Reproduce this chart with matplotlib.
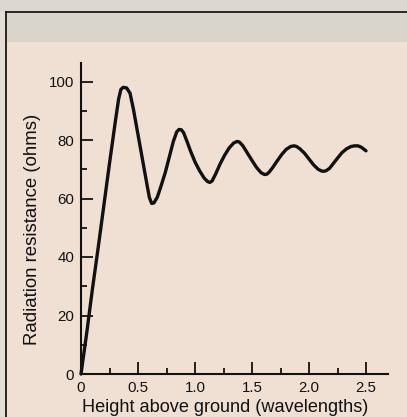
import matplotlib
matplotlib.use("Agg")
import matplotlib.pyplot as plt
from matplotlib.ticker import FixedLocator
from matplotlib.patches import Rectangle
from matplotlib.lines import Line2D

# Data
height_wl = [0.00, 0.05, 0.10, 0.15, 0.20, 0.25, 0.30, 0.33, 0.35, 0.37, 0.40, 0.43,
             0.46, 0.49, 0.52, 0.55, 0.58, 0.60, 0.62, 0.64, 0.67, 0.70, 0.74, 0.78,
             0.81, 0.84, 0.86, 0.88, 0.90, 0.93, 0.96, 1.00, 1.04, 1.08, 1.11, 1.13,
             1.15, 1.18, 1.22, 1.26, 1.30, 1.34, 1.37, 1.39, 1.42, 1.46, 1.50, 1.54,
             1.58, 1.61, 1.63, 1.65, 1.68, 1.72, 1.76, 1.80, 1.84, 1.87, 1.89, 1.92,
             1.96, 2.00, 2.04, 2.08, 2.11, 2.13, 2.15, 2.18, 2.21, 2.25, 2.29, 2.33,
             2.37, 2.40, 2.43, 2.46, 2.50]
resistance = [0.0, 14.0, 29.0, 43.0, 57.5, 72.0, 86.0, 94.0, 97.3, 98.0, 97.8, 96.0,
              90.5, 84.0, 77.5, 71.0, 64.5, 60.3, 58.3, 58.5, 60.5, 64.0, 69.0, 75.0,
              79.5, 82.8, 83.6, 83.5, 82.5, 79.5, 76.3, 72.5, 69.5, 67.0, 65.8, 65.5,
              66.0, 68.3, 71.8, 74.8, 77.3, 79.0, 79.5, 79.3, 78.0, 75.5, 73.0, 70.6,
              68.8, 68.2, 68.3, 69.0, 70.5, 72.8, 75.0, 76.8, 77.8, 78.0, 77.8, 77.0,
              75.5, 73.5, 71.5, 70.0, 69.4, 69.3, 69.5, 70.3, 71.8, 73.8, 75.7, 77.0,
              77.8, 78.0, 78.0, 77.5, 76.3]
x_ticks = [0, 0.5, 1.0, 1.5, 2.0, 2.5]
x_ticklabels = ["0", "0.5", "1.0", "1.5", "2.0", "2.5"]
y_ticks = [0, 20, 40, 60, 80, 100]
y_ticklabels = ["0", "20", "40", "60", "80", "100"]
x_label = "Height above ground (wavelengths)"
y_label = "Radiation resistance (ohms)"

W, H = 407, 417
fig = plt.figure(figsize=(W / 100, H / 100), dpi=100)
fig.patch.set_facecolor("#efe0d3")

# scanned page background: grey band on top, black frame lines
fig.patches.append(Rectangle((0, 1 - 12 / H), 1, 12 / H, transform=fig.transFigure,
                             facecolor="#dcd7d1", edgecolor="none", zorder=0))
fig.patches.append(Rectangle((6 / W, 1 - 42 / H), 1, 30 / H, transform=fig.transFigure,
                             facecolor="#d9d4cc", edgecolor="none", zorder=0))
fig.patches.append(Rectangle((0, 0), 6 / W, 1 - 12 / H, transform=fig.transFigure,
                             facecolor="#e6ddd4", edgecolor="none", zorder=0))
fig.lines.append(Line2D([6 / W, 1], [1 - 12 / H, 1 - 12 / H], transform=fig.transFigure,
                        color="#1a1a1a", lw=1.3))
fig.lines.append(Line2D([6 / W, 6 / W], [0, 1 - 12 / H], transform=fig.transFigure,
                        color="#1a1a1a", lw=1.3))

x0, y0 = 81, 374
x1, y1 = 388, 63
ax = fig.add_axes([x0 / W, 1 - y0 / H, (x1 - x0) / W, (y0 - y1) / H])
ax.set_facecolor("none")

xmax = (x1 - x0) / 114.0
ymax = (y0 - y1) / 2.925
ax.set_xlim(0, xmax)
ax.set_ylim(0, ymax)

ax.plot(height_wl, resistance, color="#111111", lw=2.4, solid_joinstyle="round",
        solid_capstyle="round", clip_on=False)

for s in ["top", "right"]:
    ax.spines[s].set_visible(False)
for s in ["left", "bottom"]:
    ax.spines[s].set_color("#111111")
    ax.spines[s].set_linewidth(1.5)

ax.xaxis.set_major_locator(FixedLocator(x_ticks))
ax.set_xticklabels(x_ticklabels)
ax.xaxis.set_minor_locator(FixedLocator([0.25, 0.75, 1.25, 1.75, 2.25]))
ax.yaxis.set_major_locator(FixedLocator(y_ticks))
ax.set_yticklabels(y_ticklabels)
ax.yaxis.set_minor_locator(FixedLocator([10, 30, 50, 70, 90]))

ax.tick_params(axis="both", which="major", direction="in", length=8.5, width=1.3,
               color="#111111", labelsize=10.8, labelcolor="#111111")
ax.tick_params(axis="both", which="minor", direction="in", length=4.5, width=1.3,
               color="#111111")
ax.tick_params(axis="y", which="major", pad=5)
ax.tick_params(axis="x", which="major", pad=5)

font = "Liberation Sans"
for lab in ax.get_xticklabels() + ax.get_yticklabels():
    lab.set_fontfamily(font)

fig.text(225 / W, 1 - 408 / H, x_label, ha="center", va="center", fontsize=13.1,
         family=font, color="#111111")
fig.text(33 / W, 1 - 229 / H, y_label, ha="center", va="center", rotation=90,
         fontsize=13.4, family=font, color="#111111")

fig.savefig("out.png", dpi=100, facecolor=fig.get_facecolor())
